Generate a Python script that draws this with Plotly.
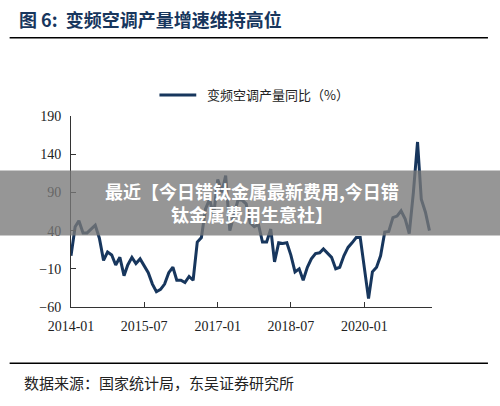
import plotly.graph_objects as go
import pandas as pd

start = "2014-01-01"
values = [7, 45, 53, 37, 37, 42, 47, 30, 1, 12, 8, -5, 5, -19, -5, 5, -3, 3, -5, -15,
          -30, -40, -37, -30, -15, -8, -25, -25, -28, -20, -25, 25, 31, 68, 81, 60, 107, 90, 112, 40,
          60, 80, 80, 75, 50, 45, 48, 25, 25, 42, -1, 24, 23, 24, 8, -14, -10, -25, -8, 3,
          10, 11, 16, 10, 5, -10, -8, 7, 18, 24, 31, 31, -6, -49, -14, -8, 7, 38, 39, 57,
          59, 66, 55, 36, 90, 156, 81, 64, 40]
dates = pd.date_range(start, periods=len(values), freq="MS")
series_name = "变频空调产量同比（%）"
title = "图 6:  变频空调产量增速维持高位"
source = "数据来源：国家统计局，东吴证券研究所"
overlay = "最近【今日错钛金属最新费用,今日错<br>钛金属费用生意社】"
tickvals = ["2014-01-01", "2015-07-01", "2017-01-01", "2018-07-01", "2020-01-01"]
ticktext = ["2014-01", "2015-07", "2017-01", "2018-07", "2020-01"]

navy = "#17365d"
fig = go.Figure(go.Scatter(x=dates, y=values, mode="lines", name=series_name,
                           line=dict(color=navy, width=3)))
fig.update_layout(
    width=500, height=406, margin=dict(l=71, r=68, t=116, b=99),
    paper_bgcolor="white", plot_bgcolor="white", showlegend=False,
    font=dict(family="Liberation Serif", color="#222", size=14),
)
fig.update_xaxes(range=["2014-01-01", "2021-05-20"], tickvals=tickvals, ticktext=ticktext,
                 showgrid=False, showline=True, linecolor="#333", linewidth=1,
                 ticks="inside", ticklen=5, tickcolor="#333", zeroline=False, ticklabelstandoff=6)
fig.update_yaxes(range=[-60, 190], dtick=50, tick0=-60, showgrid=False, showline=True,
                 linecolor="#333", linewidth=1, ticks="inside", ticklen=5, tickcolor="#333",
                 zeroline=False, ticklabelstandoff=6)
cjk = "Noto Sans CJK SC"
fig.add_annotation(xref="paper", yref="paper", x=-0.15, y=1.51, xanchor="left", yanchor="middle",
                   text="<b>" + title + "</b>", showarrow=False,
                   font=dict(family=cjk, size=18, color=navy))
fig.add_shape(type="line", xref="paper", yref="paper", x0=-0.17, x1=1.155, y0=1.41, y1=1.41,
              line=dict(color="black", width=1.5))
fig.add_shape(type="line", xref="paper", yref="paper", x0=0.245, x1=0.347, y0=1.11, y1=1.11,
              line=dict(color=navy, width=3))
fig.add_annotation(xref="paper", yref="paper", x=0.37, y=1.11, xanchor="left", yanchor="middle",
                   text=series_name, showarrow=False, font=dict(family=cjk, size=13, color="#222"))
fig.add_shape(type="line", xref="paper", yref="paper", x0=-0.17, x1=1.155, y0=-0.295, y1=-0.295,
              line=dict(color="black", width=1.5))
fig.add_annotation(xref="paper", yref="paper", x=-0.135, y=-0.395, xanchor="left", yanchor="middle",
                   text=source, showarrow=False, font=dict(family=cjk, size=15, color="#222"))
fig.add_shape(type="rect", xref="paper", yref="paper", x0=-0.2, x1=1.2, y0=0.375, y1=0.715,
              fillcolor="rgba(120,120,120,0.78)", line=dict(width=0), layer="above")
fig.add_annotation(xref="paper", yref="paper", x=0.5, y=0.545, xanchor="center", yanchor="middle",
                   text="<b>" + overlay + "</b>", showarrow=False,
                   font=dict(family=cjk, size=18, color="white"))
fig.write_html("out.html", config={"displayModeBar": False})
with open("out.html", encoding="utf-8") as f:
    html = f.read()
html = html.replace("<body>", '<body style="margin:0">', 1)
with open("out.html", "w", encoding="utf-8") as f:
    f.write(html)
